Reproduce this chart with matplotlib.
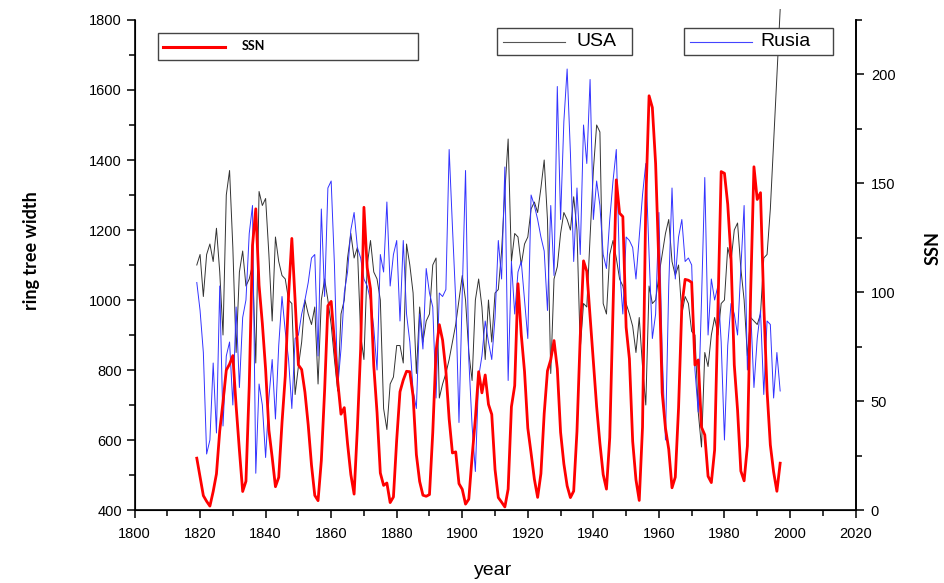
import numpy as np
import matplotlib.pyplot as plt
from matplotlib.lines import Line2D
from matplotlib.patches import Rectangle
from matplotlib.ticker import MultipleLocator

# yearly sunspot number, 1819-1997
ssn = [23.8, 15.2, 6.6, 4.0, 1.8, 8.5, 16.6, 36.3, 49.6, 64.2,
       67.0, 70.9, 47.8, 27.5, 8.5, 13.2, 56.9, 121.5, 138.3, 103.2,
       85.7, 64.6, 36.7, 24.2, 10.7, 15.0, 40.1, 61.5, 98.5, 124.7,
       96.3, 66.6, 64.5, 54.1, 39.0, 20.6, 6.7, 4.3, 22.7, 54.8,
       93.8, 95.8, 77.2, 59.1, 44.0, 47.0, 30.5, 16.3, 7.3, 37.6,
       74.0, 139.0, 111.2, 101.6, 66.2, 44.7, 17.0, 11.3, 12.4, 3.4,
       6.0, 32.3, 54.3, 59.7, 63.7, 63.5, 52.2, 25.4, 13.1, 6.8,
       6.3, 7.1, 35.6, 73.0, 85.1, 78.0, 64.0, 41.8, 26.2, 26.7,
       12.1, 9.5, 2.7, 5.0, 24.4, 42.0, 63.5, 53.8, 62.0, 48.5,
       43.9, 18.6, 5.7, 3.6, 1.4, 9.6, 47.4, 57.1, 103.9, 80.6,
       63.6, 37.6, 26.1, 14.2, 5.8, 16.7, 44.3, 63.9, 69.0, 77.8,
       64.9, 35.7, 21.2, 11.1, 5.7, 8.7, 36.1, 79.7, 114.4, 109.6,
       88.8, 67.8, 47.5, 30.6, 16.3, 9.6, 33.2, 92.6, 151.6, 136.3,
       134.7, 83.9, 69.4, 31.5, 13.9, 4.4, 38.0, 141.7, 190.2, 184.8,
       159.0, 112.3, 53.9, 37.6, 27.9, 10.2, 15.1, 47.0, 93.8, 105.9,
       105.5, 104.5, 66.6, 68.9, 38.0, 34.5, 15.5, 12.6, 27.5, 92.5,
       155.4, 154.6, 140.4, 115.9, 66.6, 45.9, 17.9, 13.4, 29.4, 100.2,
       157.6, 142.6, 145.7, 94.3, 54.6, 29.9, 17.5, 8.6, 21.5]

# ring tree width, USA, 1819-1997
usa = [1100, 1130, 1010, 1130, 1160, 1110, 1205, 1080, 900, 1300,
       1370, 1150, 850, 1080, 1140, 1040, 1060, 1100, 820, 1310,
       1270, 1290, 1130, 940, 1180, 1110, 1070, 1060, 1000, 990,
       730, 810, 880, 1000, 960, 930, 980, 760, 1000, 1060,
       1000, 930, 830, 740, 960, 1000, 1120, 1190, 1120, 1150,
       900, 830, 1100, 1170, 1080, 1060, 1000, 690, 630, 760,
       780, 870, 870, 820, 1160, 1100, 1020, 790, 980, 880,
       940, 960, 1100, 1120, 720, 760, 790, 830, 880, 930,
       1000, 1070, 1000, 850, 770, 1000, 1060, 980, 830, 1000,
       880, 1020, 1030, 1140, 1310, 1460, 1110, 1190, 1180, 1100,
       1160, 1180, 1260, 1280, 1250, 1320, 1400, 1230, 790, 1060,
       1095, 1190, 1250, 1230, 1200, 1295, 1200, 860, 990, 980,
       1180, 1370, 1500, 1480, 990, 960, 1130, 1170, 1120, 1060,
       1040, 990, 960, 925, 850, 950, 810, 700, 1040, 990,
       1000, 1070, 1130, 1190, 1230, 1110, 1070, 1100, 960, 1010,
       990, 910, 900, 680, 580, 850, 810, 900, 950, 900,
       990, 1000, 1150, 1110, 1200, 1220, 1090, 1000, 840, 950,
       940, 930, 960, 1120, 1130, 1260, 1450, 1640, 1830]

# ring tree width, Rusia, 1819-1997
rusia = [1050, 970, 850, 560, 600, 820, 620, 1040, 640, 840,
         880, 700, 980, 750, 950, 1000, 1190, 1270, 505, 760,
         700, 550, 720, 830, 660, 870, 1010, 910, 830, 690,
         890, 900, 960, 1000, 1050, 1120, 1130, 840, 1260, 1010,
         1320, 1340, 1100, 750, 860, 1020, 1080, 1200, 1250, 1150,
         1120, 1060, 1040, 1000, 920, 800, 1130, 1080, 1280, 1040,
         1130, 1170, 940, 1170, 960, 880, 740, 690, 960, 860,
         1090, 1020, 980, 720, 1020, 1010, 1030, 1430, 1210, 1000,
         650, 1020, 1370, 830, 640, 510, 780, 840, 940, 880,
         830, 950, 1170, 1060, 1380, 770, 1110, 960, 1080, 1110,
         1000, 890, 1300, 1270, 1230, 1180, 1140, 970, 1270, 1070,
         1610, 1230, 1510, 1660, 1420, 1110, 1320, 1130, 1500, 1390,
         1630, 1230, 1340, 1270, 1130, 1090, 1230, 1340, 1430, 1090,
         960, 1180, 1170, 1150, 1060, 1180, 1300, 1390, 1130, 890,
         960, 1250, 850, 600, 1040, 1320, 1060, 1180, 1230, 1110,
         1120, 1100, 800, 680, 1000, 1350, 900, 1060, 1000, 1040,
         880, 600, 870, 990, 960, 900, 1090, 1270, 800, 970,
         750, 890, 970, 730, 940, 930, 720, 850, 740]

years = np.arange(1819, 1819 + len(ssn))

num_font = 'Liberation Sans'
bold_font = 'Lato'

fig = plt.figure(figsize=(9.44, 5.83), dpi=100)
ax = fig.add_axes([0.1425, 0.1252, 0.7638, 0.8405])

ax.plot(years, usa, color='#333333', linewidth=0.7, clip_on=False)
ax.plot(years, rusia, color='#3333ff', linewidth=0.7)

ax.set_xlim(1800, 2020)
ax.set_ylim(400, 1800)
ax.xaxis.set_major_locator(MultipleLocator(20))
ax.xaxis.set_minor_locator(MultipleLocator(10))
ax.yaxis.set_major_locator(MultipleLocator(200))
ax.yaxis.set_minor_locator(MultipleLocator(100))
ax.spines['top'].set_visible(False)
for s in ['left', 'bottom', 'right']:
    ax.spines[s].set_linewidth(1.2)
ax.tick_params(which='major', direction='out', length=6, width=1.1, labelsize=10.5)
ax.tick_params(which='minor', direction='out', length=4, width=1.1)
ax.tick_params(axis='x', pad=6)
ax.tick_params(axis='y', pad=3)
for lab in ax.get_xticklabels() + ax.get_yticklabels():
    lab.set_fontfamily(num_font)

ax.set_xlabel('year', fontsize=14, fontfamily=num_font)
ax.xaxis.set_label_coords(0.497, -0.106)
ax.set_ylabel('ring tree width', fontsize=13, fontweight='bold',
              fontfamily=bold_font)
ax.yaxis.set_label_coords(-0.131, 0.53)

ax2 = ax.twinx()
ax2.plot(years, ssn, color='#ff0000', linewidth=2.0)
ax2.set_ylim(0, 225)
ax2.yaxis.set_major_locator(MultipleLocator(50))
ax2.yaxis.set_minor_locator(MultipleLocator(25))
ax2.spines['top'].set_visible(False)
ax2.spines['right'].set_linewidth(1.2)
ax2.tick_params(which='major', direction='out', length=6, width=1.1, labelsize=10.5, pad=5)
ax2.tick_params(which='minor', direction='out', length=4, width=1.1)
for lab in ax2.get_yticklabels():
    lab.set_fontfamily(num_font)
ax2.set_ylabel('SSN', fontsize=13, fontweight='bold', fontfamily=bold_font,
               rotation=90)
ax2.yaxis.set_label_coords(1.096, 0.535)


# legend boxes, given in pixels from the top-left corner
def px(x, y):
    return x / 944, 1 - y / 583


def legend_box(x0, y0, x1, y1, color, lw, label, lx0, lx1, tx, **txt):
    (a, b), (c, d) = px(x0, y1), px(x1, y0)
    fig.add_artist(Rectangle((a, b), c - a, d - b, transform=fig.transFigure,
                             facecolor='white', edgecolor='#444444', linewidth=1.0))
    ym = (y0 + y1) / 2
    (p, q), (r, _) = px(lx0, ym), px(lx1, ym)
    fig.add_artist(Line2D([p, r], [q, q], transform=fig.transFigure,
                          color=color, linewidth=lw))
    t, _ = px(tx, ym)
    fig.text(t, q, label, va='center', ha='left', **txt)


legend_box(158, 33, 418, 60, '#ff0000', 2.2, 'SSN', 163, 225, 242,
           fontsize=9, fontweight='bold', fontfamily=bold_font)
legend_box(497, 28, 632, 55, '#555555', 0.8, 'USA', 503, 565, 576,
           fontsize=14, fontfamily=num_font)
legend_box(684, 28, 833, 55, '#4444ff', 0.8, 'Rusia', 690, 752, 760,
           fontsize=14, fontfamily=num_font)

fig.savefig('out.png', dpi=100)
